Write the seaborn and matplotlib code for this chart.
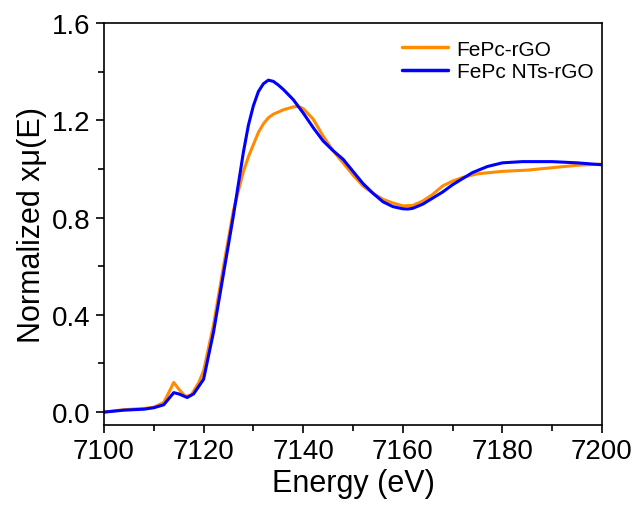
import matplotlib
matplotlib.use("Agg")
import matplotlib.pyplot as plt
import seaborn as sns
import pandas as pd
from matplotlib.ticker import MultipleLocator

sns.set_theme(style="ticks")
plt.rcParams['font.family'] = ['Liberation Sans', 'DejaVu Sans']
plt.rcParams['text.color'] = 'black'
plt.rcParams['axes.labelcolor'] = 'black'

energy_orange = [7100, 7104, 7108, 7110, 7112, 7113, 7114, 7115, 7116.3, 7117.5, 7119, 7120, 7122,
                 7124, 7126, 7128, 7129, 7130, 7131, 7132, 7133, 7134, 7136, 7138, 7139, 7140,
                 7142, 7144, 7146, 7148, 7150, 7152, 7154, 7156, 7158, 7160, 7162, 7164, 7166,
                 7168, 7170, 7172, 7175, 7180, 7185, 7190, 7195, 7200]
mu_orange = [0.0, 0.01, 0.015, 0.02, 0.04, 0.08, 0.122, 0.095, 0.065, 0.07, 0.12, 0.17, 0.36,
             0.6, 0.83, 0.99, 1.05, 1.1, 1.15, 1.185, 1.21, 1.225, 1.243, 1.255, 1.257, 1.248,
             1.205, 1.135, 1.075, 1.025, 0.975, 0.93, 0.9, 0.875, 0.86, 0.848, 0.85, 0.868, 0.895,
             0.93, 0.95, 0.965, 0.98, 0.99, 0.995, 1.005, 1.015, 1.02]

energy_blue = [7100, 7104, 7108, 7110, 7112, 7113, 7114, 7115, 7116.7, 7118, 7120, 7122,
               7124, 7126, 7128, 7129, 7130, 7131, 7132, 7133, 7134, 7135, 7136, 7138, 7140,
               7142, 7144, 7146, 7148, 7150, 7152, 7154, 7156, 7158, 7160, 7161, 7162, 7164,
               7166, 7168, 7170, 7172, 7174, 7177, 7180, 7184, 7190, 7195, 7200]
mu_blue = [0.0, 0.008, 0.012, 0.018, 0.03, 0.055, 0.08, 0.075, 0.06, 0.075, 0.135, 0.33,
           0.57, 0.81, 1.07, 1.18, 1.26, 1.318, 1.35, 1.365, 1.36, 1.345, 1.327, 1.285, 1.23,
           1.17, 1.115, 1.075, 1.04, 0.99, 0.94, 0.9, 0.865, 0.845, 0.836, 0.835, 0.838, 0.855,
           0.88, 0.905, 0.935, 0.96, 0.985, 1.01, 1.025, 1.03, 1.03, 1.025, 1.017]

series_names = ["FePc-rGO", "FePc NTs-rGO"]
colors = ["#FF8C00", "#0000FF"]

df = pd.concat([
    pd.DataFrame({"Energy": energy_orange, "mu": mu_orange, "sample": series_names[0]}),
    pd.DataFrame({"Energy": energy_blue, "mu": mu_blue, "sample": series_names[1]}),
])

fig = plt.figure(figsize=(6.37, 5.06), dpi=100)
ax = fig.add_axes([104/637, 80/506, 498/637, 402/506])
sns.lineplot(data=df, x="Energy", y="mu", hue="sample", palette=colors,
             linewidth=2.2, ax=ax, estimator=None, sort=True)

ax.set_xlim(7100, 7200)
ax.set_ylim(-0.053, 1.6)
ax.xaxis.set_major_locator(MultipleLocator(20))
ax.xaxis.set_minor_locator(MultipleLocator(10))
ax.yaxis.set_major_locator(MultipleLocator(0.4))
ax.yaxis.set_minor_locator(MultipleLocator(0.2))
ax.yaxis.set_major_formatter(matplotlib.ticker.FormatStrFormatter('%.1f'))
ax.tick_params(which='major', direction='out', length=6, width=1.2, labelsize=20,
               colors='black', labelcolor='black')
ax.tick_params(which='minor', direction='out', length=4, width=1.2, colors='black')
for s in ax.spines.values():
    s.set_linewidth(1.2)
    s.set_color('black')
ax.set_xlabel("Energy (eV)", fontsize=22, color='black', labelpad=3)
ax.set_ylabel("Normalized xμ(E)", fontsize=22, color='black')
leg = ax.legend(frameon=False, fontsize=15, loc='upper right',
                bbox_to_anchor=(1.02, 1.005), handlelength=2.2, labelspacing=0.15,
                handletextpad=0.4)
for t in leg.get_texts():
    t.set_color('black')
for line in leg.get_lines():
    line.set_linewidth(2.5)

fig.savefig("out.png", dpi=100, facecolor="white")
